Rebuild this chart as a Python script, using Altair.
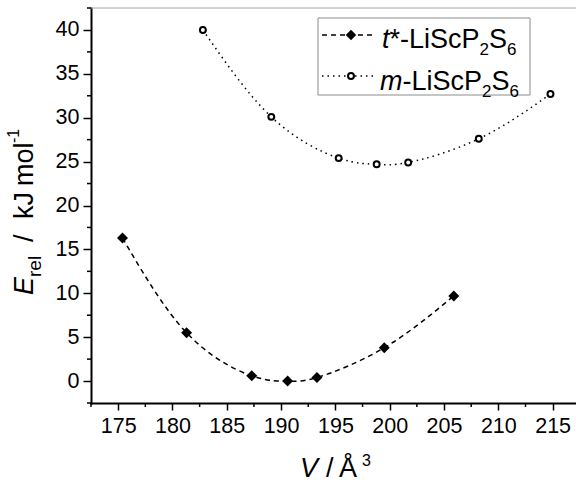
import altair as alt
import pandas as pd

# ---------------- data ----------------
t_V = [175.4, 181.3, 187.3, 190.6, 193.3, 199.5, 205.9]
t_E = [16.3, 5.5, 0.6, 0.0, 0.4, 3.8, 9.7]
m_V = [182.8, 189.1, 195.3, 198.8, 201.7, 208.2, 214.8]
m_E = [40.0, 30.1, 25.4, 24.7, 24.9, 27.6, 32.7]

x_major = [175, 180, 185, 190, 195, 200, 205, 210, 215]
y_major = [0, 5, 10, 15, 20, 25, 30, 35, 40]
x_minor = [172.5, 177.5, 182.5, 187.5, 192.5, 197.5, 202.5, 207.5, 212.5]
y_minor = [-2.5, 2.5, 7.5, 12.5, 17.5, 22.5, 27.5, 32.5, 37.5, 42.5]
x_domain = [172.5, 217.15]
y_domain = [-2.5, 42.5]

# ---------------- layout ----------------
FONT = "Liberation Sans"
PAD_L, PAD_T, PAD_R, PAD_B = 91, 8, 0, 79
W, H = 576 - PAD_L - PAD_R, 482 - PAD_T - PAD_B

# Arial / Liberation Sans advance widths (per 1000 em)
AW = {" ": 278, "*": 389, "-": 333, "/": 278, "L": 556, "i": 222,
      "S": 667, "c": 500, "P": 667, "t": 278, "m": 833, "k": 500, "J": 500,
      "o": 556, "l": 222, "r": 333, "e": 556, "E": 667, "V": 667,
      "\u00c5": 667}


def tw(s, size):
    return sum(AW.get(ch, 556) for ch in s) / 1000.0 * size


ONE = alt.Data(values=[{"k": 0}])


def seg(text, xa, ya, size, italic=False, angle=0):
    kw = dict(text=text, fontSize=size, font=FONT, align="left",
              baseline="alphabetic", color="black",
              fontStyle="italic" if italic else "normal")
    if angle:
        kw["angle"] = angle
    return alt.Chart(ONE).mark_text(**kw).encode(
        x=alt.value(xa - PAD_L), y=alt.value(ya - PAD_T))


def rich_row(parts, x0, base, main=27, sub=17, dsub=7):
    out = []
    x = x0
    for txt, kind in parts:
        if kind == "sub":
            out.append(seg(txt, x, base + dsub, sub))
            x += tw(txt, sub)
        else:
            out.append(seg(txt, x, base, main, italic=(kind == "it")))
            x += tw(txt, main)
    return out


xs = alt.Scale(domain=x_domain, nice=False, zero=False)
ys = alt.Scale(domain=y_domain, nice=False, zero=False)
common_axis = dict(title=None, grid=False, domainColor="black", domainWidth=2,
                   domainCap="square", tickColor="black", tickWidth=1.5,
                   labelFont=FONT, labelFontSize=21.5, labelColor="black",
                   labelFlush=False, labelOverlap=False)
xaxis = alt.Axis(values=x_major, tickSize=7, labelPadding=5, **common_axis)
yaxis = alt.Axis(values=y_major, tickSize=8, labelPadding=4, **common_axis)


def X(f):
    return alt.X(f, type="quantitative", scale=xs, axis=xaxis)


def Y(f):
    return alt.Y(f, type="quantitative", scale=ys, axis=yaxis)


df_t = pd.DataFrame({"V": t_V, "E": t_E})
df_m = pd.DataFrame({"V": m_V, "E": m_E})

line_t = alt.Chart(df_t).mark_line(
    interpolate="natural", color="black", strokeWidth=1.5, strokeDash=[5, 4]
).encode(x=X("V"), y=Y("E"))
line_m = alt.Chart(df_m).mark_line(
    interpolate="natural", color="black", strokeWidth=1.5, strokeDash=[1.5, 4]
).encode(x=X("V"), y=Y("E"))
pts_t = alt.Chart(df_t).mark_point(
    shape="diamond", size=120, filled=True, color="black", opacity=1
).encode(x=X("V"), y=Y("E"))
pts_m = alt.Chart(df_m).mark_point(
    shape="circle", size=35, filled=False, fill="white", fillOpacity=1,
    stroke="black", strokeWidth=2, opacity=1
).encode(x=X("V"), y=Y("E"))

# minor ticks
minx = alt.Chart(pd.DataFrame({"V": x_minor})).mark_rule(
    color="black", strokeWidth=1.5
).encode(x=X("V"), y=alt.value(H), y2=alt.value(H + 4))
miny = alt.Chart(pd.DataFrame({"E": y_minor})).mark_rule(
    color="black", strokeWidth=1.5
).encode(y=Y("E"), x=alt.value(0), x2=alt.value(-4))

# top frame line
top = alt.Chart(ONE).mark_rule(color="#a6a6a6", strokeWidth=1).encode(
    x=alt.value(0), x2=alt.value(W), y=alt.value(0))

# ---------------- legend ----------------
leg_box = alt.Chart(ONE).mark_rect(
    fill="white", stroke="#8c8c8c", strokeWidth=1
).encode(x=alt.value(318 - PAD_L), x2=alt.value(530 - PAD_L),
         y=alt.value(18 - PAD_T), y2=alt.value(95 - PAD_T))
leg_l1 = alt.Chart(ONE).mark_rule(color="black", strokeWidth=1.5,
                                  strokeDash=[5, 4]).encode(
    x=alt.value(322 - PAD_L), x2=alt.value(376 - PAD_L),
    y=alt.value(35 - PAD_T))
leg_l2 = alt.Chart(ONE).mark_rule(color="black", strokeWidth=1.5,
                                  strokeDash=[1.5, 4]).encode(
    x=alt.value(322 - PAD_L), x2=alt.value(376 - PAD_L),
    y=alt.value(76 - PAD_T))
leg_p1 = alt.Chart(ONE).mark_point(
    shape="diamond", size=110, filled=True, color="black", opacity=1
).encode(x=alt.value(351 - PAD_L), y=alt.value(35 - PAD_T))
leg_p2 = alt.Chart(ONE).mark_point(
    shape="circle", size=35, filled=False, fill="white", fillOpacity=1,
    stroke="black", strokeWidth=2, opacity=1
).encode(x=alt.value(351 - PAD_L), y=alt.value(76 - PAD_T))

legend_t = [("t", "it"), ("*-LiScP", "n"), ("2", "sub"), ("S", "n"), ("6", "sub")]
legend_m = [("m", "it"), ("-LiScP", "n"), ("2", "sub"), ("S", "n"), ("6", "sub")]
leg_text = rich_row(legend_t, 382, 48) + rich_row(legend_m, 380, 90)

# ---------------- axis titles (each word placed separately) ----------------
XB = 477  # baseline of x title
xt = [
    seg("V", 300, XB, 27, italic=True),
    seg("/", 326, XB, 27),
    seg("\u00c5", 339, XB, 27),
    seg("3", 362, XB - 11, 16),
]
YB = 33  # baseline x of rotated y title
yt = [
    seg("E", YB, 295, 27, italic=True, angle=270),
    seg("rel", YB + 8, 277, 19, angle=270),
    seg("/", YB, 242, 27, angle=270),
    seg("kJ", YB, 219, 27, angle=270),
    seg("mol", YB, 186, 27, angle=270),
    seg("-1", YB - 14, 143, 16, angle=270),
]

chart = alt.layer(
    top, line_t, line_m, pts_t, pts_m, minx, miny,
    leg_box, leg_l1, leg_l2, leg_p1, leg_p2, *leg_text, *xt, *yt
).properties(
    width=W, height=H,
    autosize=alt.AutoSizeParams(type="none"),
    padding={"left": PAD_L, "top": PAD_T, "right": PAD_R, "bottom": PAD_B},
    background="white",
).configure_view(stroke=None)

chart.save("out.html", embed_options={"renderer": "svg", "actions": False})
